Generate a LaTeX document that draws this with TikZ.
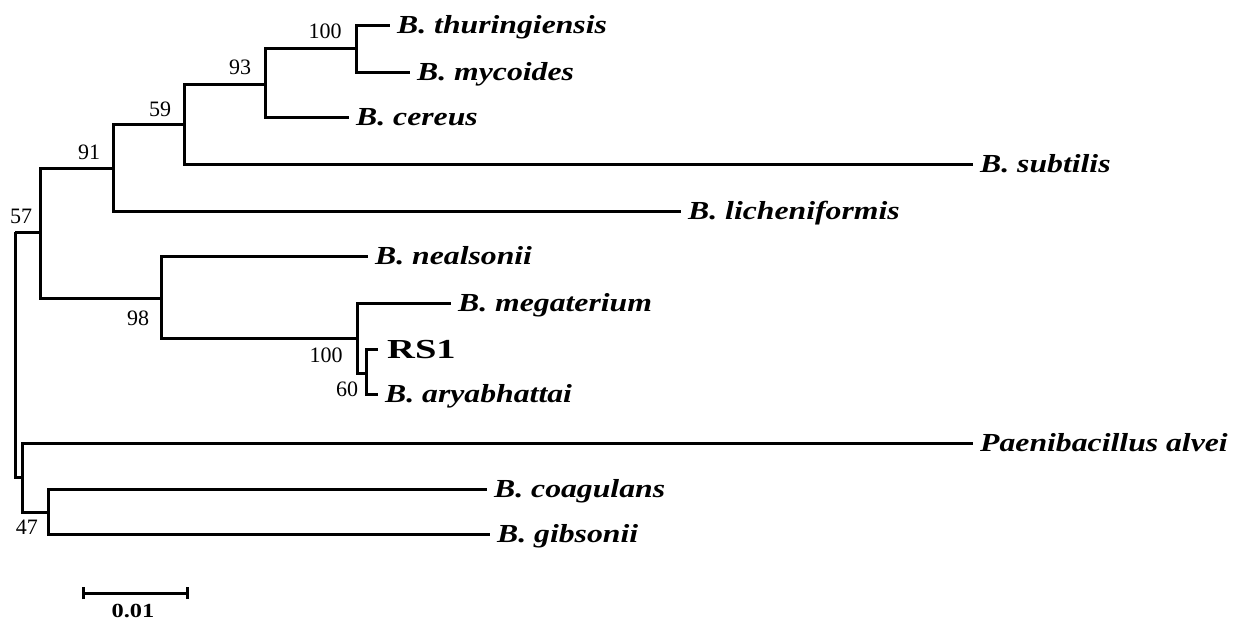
\documentclass[tikz,border=0pt]{standalone}
\usepackage{fontspec}
\setmainfont{Liberation Serif}
\newfontfamily\taxfont[FakeStretch=1.22]{Liberation Serif}
\newfontfamily\rsfont[FakeStretch=1.4]{Liberation Serif}
\begin{document}
\begin{tikzpicture}[x=1pt,y=-1pt,
  br/.style={line width=3pt, line join=miter},
  leaf/.style={anchor=west, inner xsep=7pt, inner ysep=0pt, text height=16.5pt, text depth=0pt,
    font=\taxfont\fontsize{26}{26}\selectfont\bfseries\itshape},
  rsleaf/.style={anchor=west, inner xsep=9pt, inner ysep=0pt, text height=18pt, text depth=0pt,
    font=\rsfont\fontsize{27.5}{27.5}\selectfont\bfseries},
  boot/.style={inner sep=0pt, font=\fontsize{22}{22}\selectfont}]
\useasboundingbox (0,0) rectangle (1238,621);
% internal nodes
\coordinate (r1) at (15,232);
\coordinate (n57) at (40,232);
\coordinate (n91) at (113,168);
\coordinate (n59) at (184,124);
\coordinate (n93) at (265,84);
\coordinate (n100a) at (356,48);
\coordinate (n98) at (161,298);
\coordinate (n100b) at (357,338);
\coordinate (n60) at (366,373);
\coordinate (r2) at (15,477);
\coordinate (npa) at (22,477);
\coordinate (n47) at (48,512);
% leaves
\node[leaf] (thu) at (390,25) {B. thuringiensis};
\node[leaf] (myc) at (410,72) {B. mycoides};
\node[leaf] (cer) at (349,117) {B. cereus};
\node[leaf] (sub) at (973,164) {B. subtilis};
\node[leaf] (lic) at (681,211) {B. licheniformis};
\node[leaf] (nea) at (368,256) {B. nealsonii};
\node[leaf] (meg) at (451,303) {B. megaterium};
\node[rsleaf] (rs1) at (378,349) {RS1};
\node[leaf] (ary) at (378,394) {B. aryabhattai};
\node[leaf] (pae) at (973,443) {Paenibacillus alvei};
\node[leaf] (coa) at (487,489) {B. coagulans};
\node[leaf] (gib) at (490,534) {B. gibsonii};
% branches
\draw[br] (r1) -- (n57) (r1) -- (r2) -- (npa);
\draw[br] (n57) |- (n91);
\draw[br] (n57) |- (n98);
\draw[br] (n91) |- (n59);
\draw[br] (n91) |- (lic.west);
\draw[br] (n59) |- (n93);
\draw[br] (n59) |- (sub.west);
\draw[br] (n93) |- (n100a);
\draw[br] (n93) |- (cer.west);
\draw[br] (n100a) |- (thu.west);
\draw[br] (n100a) |- (myc.west);
\draw[br] (n98) |- (nea.west);
\draw[br] (n98) |- (n100b);
\draw[br] (n100b) |- (meg.west);
\draw[br] (n100b) |- (n60);
\draw[br] (n60) |- (rs1.west);
\draw[br] (n60) |- (ary.west);
\draw[br] (npa) |- (pae.west);
\draw[br] (npa) |- (n47);
\draw[br] (n47) |- (coa.west);
\draw[br] (n47) |- (gib.west);
% bootstrap values
\node[boot] (b100a) at (325,31) {100};
\node[boot] (b93) at (240,67) {93};
\node[boot] (b59) at (160,109) {59};
\node[boot] (b91) at (89,152) {91};
\node[boot] (b57) at (21,216) {57};
\node[boot] (b98) at (138,318) {98};
\node[boot] (b100b) at (326,355) {100};
\node[boot] (b60) at (347,389) {60};
\node[boot] (b47) at (27,527) {47};
% scale bar
\coordinate (sa) at (83,593);
\coordinate (sb) at (187,593);
\draw[line width=3pt] (sa) -- (sb);
\draw[line width=3pt] ([yshift=-6pt]sa) -- ([yshift=6pt]sa);
\draw[line width=3pt] ([yshift=-6pt]sb) -- ([yshift=6pt]sb);
\node[inner sep=0pt, font=\taxfont\fontsize{20}{20}\selectfont\bfseries] (scl) at (133,611) {0.01};
\end{tikzpicture}
\end{document}
